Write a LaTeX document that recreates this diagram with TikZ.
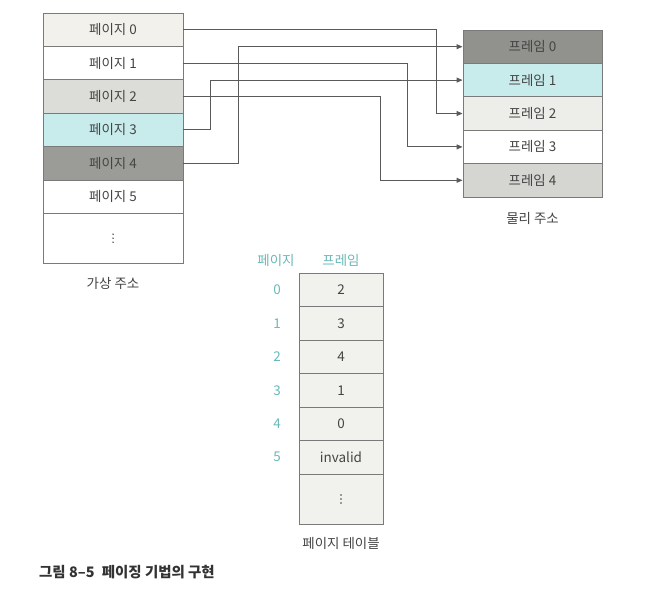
\documentclass[tikz,border=0pt]{standalone}
\usepackage{fontspec}
\setmainfont{Noto Sans CJK KR}
\usetikzlibrary{arrows.meta}
\definecolor{txt}{HTML}{444444}
\definecolor{edge}{HTML}{7A7A7A}
\definecolor{wire}{HTML}{5A5A5A}
\definecolor{teal}{HTML}{6BB9B9}
\definecolor{pwarm}{HTML}{F2F1EC}
\definecolor{plight}{HTML}{DCDCD8}
\definecolor{pcyan}{HTML}{C8ECEB}
\definecolor{pdark}{HTML}{9B9C98}
\definecolor{fdark}{HTML}{91928E}
\definecolor{flight}{HTML}{EDEDE9}
\definecolor{fgray}{HTML}{D5D6D2}
\definecolor{tcell}{HTML}{F1F1ED}
\begin{document}
\begin{tikzpicture}[x=1bp,y=-1bp,
  cell/.style={draw=edge,line width=0.9bp,minimum width=140bp,minimum height=33.4bp,inner sep=0pt,font=\fontsize{13.5}{15}\selectfont,text=txt},
  fcell/.style={cell,minimum width=139bp},
  tcellst/.style={cell,minimum width=84bp,minimum height=33.5bp,fill=tcell},
  lbl/.style={font=\fontsize{13.5}{15}\selectfont,text=txt,inner sep=0pt},
  hdr/.style={font=\fontsize{13.5}{15}\selectfont,text=teal,inner sep=0pt},
  dot/.style={fill=txt,circle,inner sep=0pt,minimum size=1.6bp},
  wirest/.style={draw=wire,line width=0.9bp,-{Triangle[length=6bp,width=5bp]}}]
\useasboundingbox[fill=white] (0,0) rectangle (649,607);
% virtual address
\node[cell,fill=pwarm] (p0) at (113,29.7) {페이지 0};
\node[cell,fill=white] (p1) at (113,63.1) {페이지 1};
\node[cell,fill=plight] (p2) at (113,96.5) {페이지 2};
\node[cell,fill=pcyan] (p3) at (113,129.9) {페이지 3};
\node[cell,fill=pdark] (p4) at (113,163.3) {페이지 4};
\node[cell,fill=white] (p5) at (113,196.7) {페이지 5};
\node[cell,fill=white,minimum height=49.6bp] (pd) at (113,238.2) {};
\foreach \d in {-4,0,4} \fill[txt] ([yshift=-\d bp]pd.center) circle (0.8bp);
\node[lbl] (vlabel) at (113,283) {가상 주소};
% physical address
\node[fcell,fill=fdark] (f0) at (532.5,46.7) {프레임 0};
\node[fcell,fill=pcyan] (f1) at (532.5,80.1) {프레임 1};
\node[fcell,fill=flight] (f2) at (532.5,113.5) {프레임 2};
\node[fcell,fill=white] (f3) at (532.5,146.9) {프레임 3};
\node[fcell,fill=fgray] (f4) at (532.5,180.3) {프레임 4};
\node[lbl] (plabel) at (532.5,218) {물리 주소};
% bend columns
\coordinate (c0) at (436,0);
\coordinate (c1) at (407,0);
\coordinate (c2) at (380,0);
\coordinate (c3) at (210,0);
\coordinate (c4) at (238,0);
\draw[wirest] (p0.east) -- (p0.east -| c0) |- (f2.west);
\draw[wirest] (p1.east) -- (p1.east -| c1) |- (f3.west);
\draw[wirest] (p2.east) -- (p2.east -| c2) |- (f4.west);
\draw[wirest] (p3.east) -- (p3.east -| c3) |- (f1.west);
\draw[wirest] (p4.east) -- (p4.east -| c4) |- (f0.west);
% page table
\node[hdr] (hp) at (276,260) {페이지};
\node[hdr] (hf) at (341,260) {프레임};
\node[tcellst] (t0) at (341,289.75) {2};
\node[tcellst] (t1) at (341,323.25) {3};
\node[tcellst] (t2) at (341,356.75) {4};
\node[tcellst] (t3) at (341,390.25) {1};
\node[tcellst] (t4) at (341,423.75) {0};
\node[tcellst] (t5) at (341,457.25) {invalid};
\node[tcellst,minimum height=50bp] (td) at (341,499) {};
\foreach \d in {-4,0,4} \fill[txt] ([yshift=-\d bp]td.center) circle (0.8bp);
\node[hdr] (i0) at (277,289.75) {0};
\node[hdr] (i1) at (277,323.25) {1};
\node[hdr] (i2) at (277,356.75) {2};
\node[hdr] (i3) at (277,390.25) {3};
\node[hdr] (i4) at (277,423.75) {4};
\node[hdr] (i5) at (277,457.25) {5};
\node[lbl] (tlabel) at (341,543) {페이지 테이블};
% caption
\node[lbl,anchor=west,text=black!80,font=\fontsize{14.5}{16}\selectfont\bfseries] (cap) at (39,572) {그림 8--5\hspace{0.5em}페이징 기법의 구현};
\end{tikzpicture}
\end{document}
